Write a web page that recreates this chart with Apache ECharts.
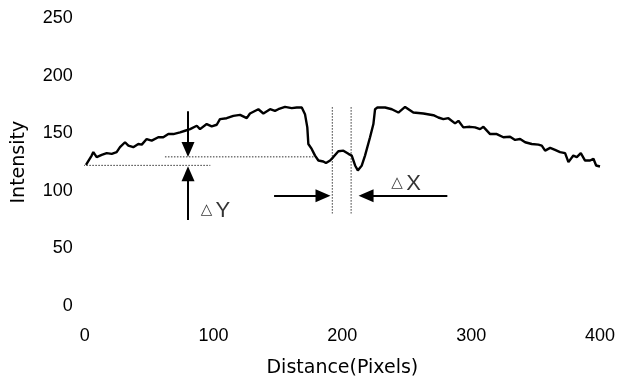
<!DOCTYPE html>
<html>
<head>
<meta charset="utf-8">
<script src="https://cdn.jsdelivr.net/npm/echarts@6/dist/echarts.min.js"></script>
<style>
html,body{margin:0;padding:0;background:#fff;}
#chart{width:622px;height:383px;}
</style>
</head>
<body>
<div id="chart"></div>
<script>
// Profile distance (pixels) and intensity
const distance = [1.0,5.4,6.7,9.3,13.2,17.1,21.0,24.8,27.4,31.3,
  33.9,37.7,41.6,44.3,48.1,52.0,57.1,61.0,64.9,68.8,
  74.0,77.9,81.8,87.0,89.5,94.7,98.6,102.5,105.0,110.2,
  115.4,120.6,125.8,128.3,134.8,138.7,143.9,147.7,150.3,155.5,
  160.7,164.6,168.5,171.0,172.8,173.6,176.2,178.8,181.4,185.2,
  187.3,190.5,193.0,196.9,200.8,204.7,207.3,209.9,212.0,215.1,
  217.6,221.5,224.1,225.4,227.2,233.2,238.4,243.5,248.7,255.1,
  262.9,270.7,274.5,278.4,282.3,287.5,290.1,293.9,299.1,303.0,
  306.9,309.5,314.7,319.9,325.0,330.2,334.1,338.0,341.9,347.0,
  352.2,354.8,357.4,361.3,365.1,369.0,372.9,375.5,379.3,382.0,
  385.1,388.4,392.3,394.9,397.0,400.0];
const intensity = [122.7,130.7,133.7,129.4,131.3,132.8,132.2,133.7,138.0,142.3,
  139.4,138.0,140.8,140.2,145.1,143.7,146.6,146.6,149.4,149.4,
  150.9,152.3,153.7,156.6,153.7,158.1,156.1,157.5,162.4,163.2,
  165.2,166.1,163.2,167.3,171.0,167.3,171.0,169.5,171.0,173.0,
  171.9,172.5,172.5,166.7,155.2,140.8,136.5,130.7,126.4,125.6,
  124.2,126.4,129.4,134.5,135.0,132.2,130.7,122.1,117.8,122.1,
  130.7,146.6,158.1,171.0,172.5,172.5,171.0,168.1,173.0,168.1,
  167.3,165.8,163.8,162.4,163.2,158.7,160.9,155.2,155.7,155.2,
  153.7,155.7,149.4,149.4,146.6,147.1,144.3,145.1,142.3,140.8,
  140.2,139.4,135.0,137.4,135.6,133.7,132.8,125.0,130.7,129.4,
  132.8,126.4,126.4,127.9,122.1,121.2];

// Axis ticks
const xTicks = [0, 100, 200, 300, 400];
const yTicks = [0, 50, 100, 150, 200, 250];

// Annotation guide lines (data coordinates): [[x1,y1],[x2,y2]]
const dottedLines = [
  [[-22, 122.2], [97.5, 122.2]],
  [[62.3, 129.6], [181, 129.6]],
  [[192.2, 172.8], [192.2, 80.4]],
  [[206.8, 172.8], [206.8, 80.4]]
];
// Arrows: start point -> end point (head at end)
const arrows = [
  [[80.2, 169.2], [80.2, 136.0]],
  [[80.2, 74.7], [80.2, 114.9]],
  [[147.0, 95.7], [185.0, 95.7]],
  [[281.5, 95.7], [218.4, 95.7]]
];
// Annotation texts
const annoLabels = [
  [101.5, 83.0, 'Y'],
  [249.5, 106.5, 'X']
];

const curve = distance.map((d, i) => [d, intensity[i]]);

const series = [{
  type: 'line',
  data: curve,
  showSymbol: false,
  symbol: 'none',
  lineStyle: { color: '#000', width: 2.4 },
  animation: false,
  z: 5
}];
dottedLines.forEach(seg => {
  series.push({
    type: 'line',
    data: seg,
    symbol: 'none',
    clip: false,
    lineStyle: { color: '#333', width: 1, type: [1.5, 1.5] },
    animation: false,
    silent: true,
    z: 3
  });
});
series.push({
  type: 'line',
  data: [],
  clip: false,
  animation: false,
  markLine: {
    silent: true,
    animation: false,
    symbol: ['none', 'triangle'],
    symbolSize: [13, 15],
    label: { show: false },
    lineStyle: { color: '#000', width: 2, type: 'solid' },
    emphasis: { disabled: true },
    data: arrows.map(a => [{ coord: a[0] }, { coord: a[1] }])
  }
});
series.push({
  type: 'scatter',
  data: annoLabels.map(l => [l[0], l[1], l[2]]),
  symbolSize: 0,
  clip: false,
  animation: false,
  silent: true,
  label: {
    show: true,
    position: 'inside',
    color: '#000',
    textBorderWidth: 0,
    formatter: p => '{t|\u25B3} {v|' + p.value[2] + '}',
    rich: {
      t: { fontFamily: 'DejaVu Sans', fontSize: 15, color: '#000', textBorderWidth: 0 },
      v: { fontFamily: 'Liberation Sans', fontSize: 22, color: '#000', textBorderWidth: 0 }
    }
  }
});

const chart = echarts.init(document.getElementById('chart'), null, { renderer: 'canvas' });
chart.setOption({
  backgroundColor: '#fff',
  animation: false,
  grid: { left: 84.7, right: 22, top: 18.3, bottom: 74.7, containLabel: false },
  xAxis: {
    type: 'value',
    min: xTicks[0], max: xTicks[xTicks.length - 1], interval: xTicks[1] - xTicks[0],
    name: 'Distance(Pixels)',
    nameLocation: 'middle',
    nameGap: 53,
    nameTextStyle: { fontFamily: 'DejaVu Sans', fontSize: 19, color: '#000' },
    axisLine: { show: false },
    axisTick: { show: false },
    splitLine: { show: false },
    axisLabel: { margin: 21, fontFamily: 'Liberation Sans', fontSize: 18, color: '#000' }
  },
  yAxis: {
    type: 'value',
    min: yTicks[0], max: yTicks[yTicks.length - 1], interval: yTicks[1] - yTicks[0],
    name: 'Intensity',
    nameLocation: 'middle',
    nameGap: 56,
    nameTextStyle: { fontFamily: 'DejaVu Sans', fontSize: 19, color: '#000' },
    axisLine: { show: false },
    axisTick: { show: false },
    splitLine: { show: false },
    axisLabel: { margin: 12, fontFamily: 'Liberation Sans', fontSize: 18, color: '#000' }
  },
  series: series
});
</script>
</body>
</html>
